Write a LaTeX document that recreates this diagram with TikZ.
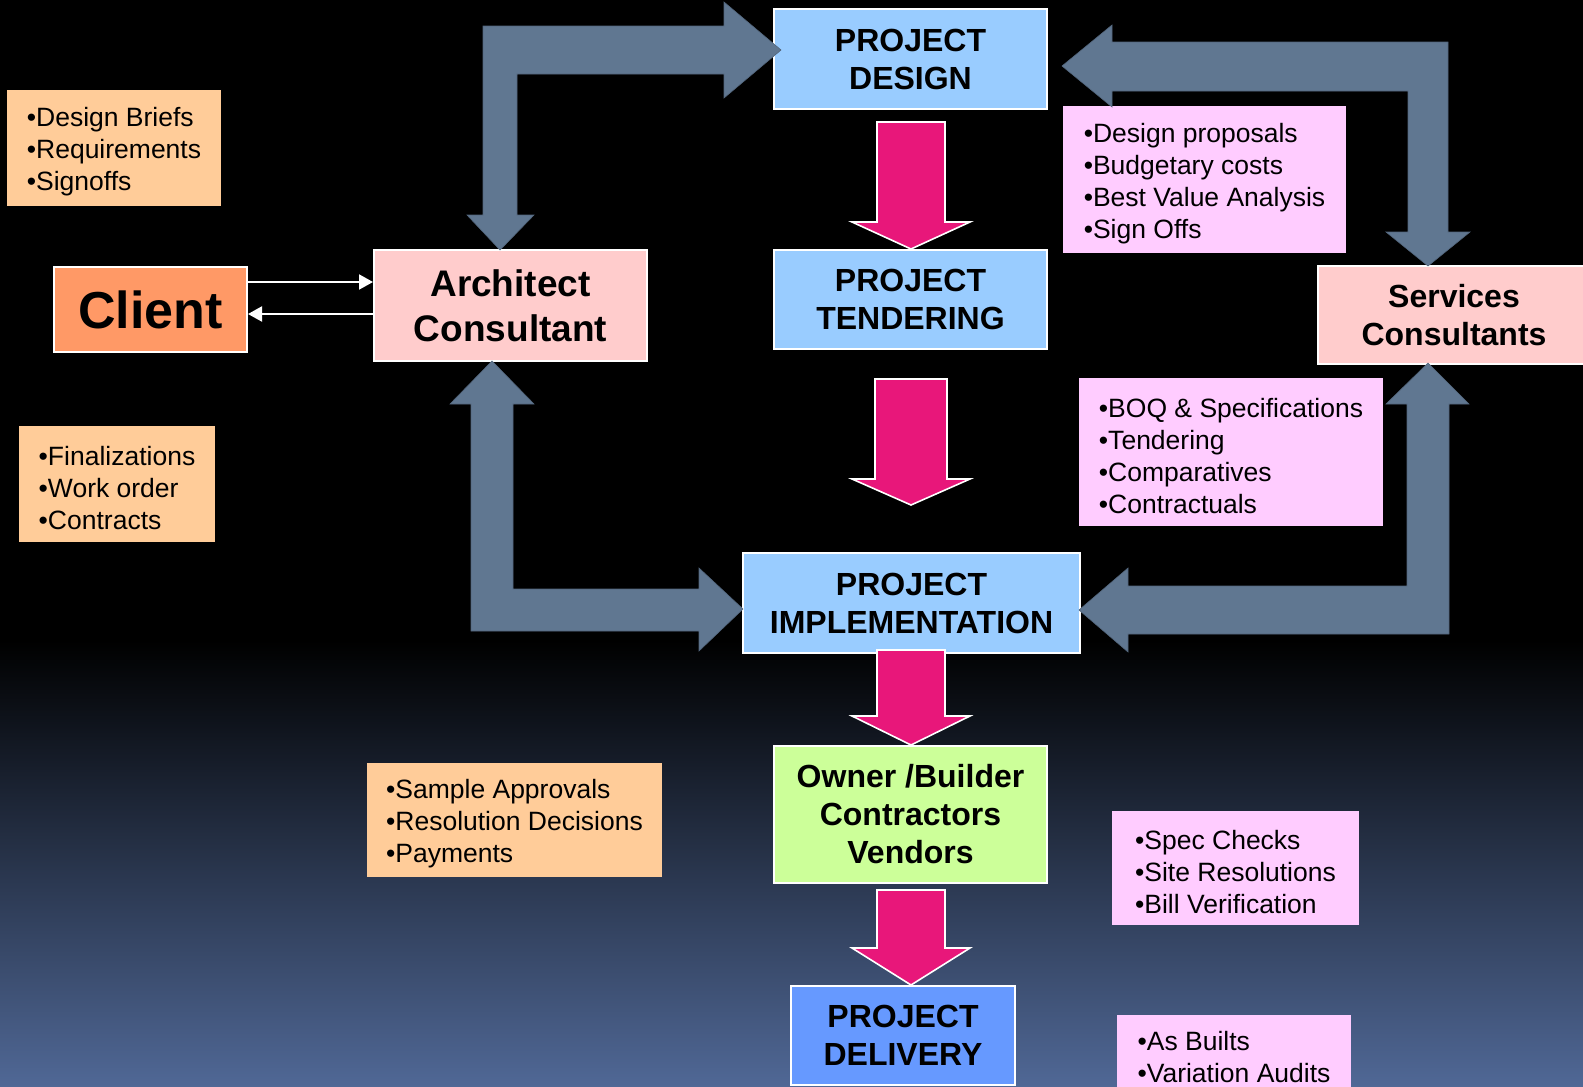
\documentclass[tikz,border=0pt]{standalone}
\usepackage{fontspec}
\setmainfont{Liberation Sans}
\usetikzlibrary{arrows.meta}
\definecolor{bgblue}{RGB}{80,104,150}
\definecolor{greyarr}{RGB}{96,119,145}
\definecolor{magarr}{RGB}{232,23,122}
\definecolor{projblue}{RGB}{153,204,255}
\definecolor{delblue}{RGB}{102,153,255}
\definecolor{ownergreen}{RGB}{204,255,153}
\definecolor{clientorange}{RGB}{255,153,102}
\definecolor{consultpink}{RGB}{255,204,204}
\definecolor{noteorange}{RGB}{255,204,153}
\definecolor{notepink}{RGB}{255,204,255}
\newcommand\magdown[5]{%
  \filldraw[magshape] (#1-#5,#2) -- (#1+#5,#2) -- (#1+#5,#3) -- (#1+59,#3) -- (#1,#4) -- (#1-59,#3) -- (#1-#5,#3) -- cycle;}
\newcommand\tp{\rule{0pt}{27pt}}
\tikzset{
  titlebox/.style={draw=white, line width=2pt, inner sep=0pt, align=center,
    font=\fontsize{32}{38}\selectfont\bfseries},
  notebox/.style={inner sep=0pt, align=left, font=\fontsize{26.5}{32}\selectfont},
  magshape/.style={fill=magarr, draw=white, line width=1.6pt, line join=miter},
  greyshape/.style={fill=greyarr, draw=greyarr!85!black, line width=0.6pt},
  link/.style={draw=white, line width=2pt, -{Triangle[length=14pt,width=15pt]}}
}
\begin{document}
\begin{tikzpicture}[x=1pt,y=-1pt]
\useasboundingbox (0,0) rectangle (1583,1087);
\fill[black] (0,0) rectangle (1583,1087);
\shade[top color=black, bottom color=bgblue] (0,640) rectangle (1583,1087);

% main boxes
\node[titlebox, fill=projblue, minimum width=273pt, minimum height=100pt] (design) at (910.5,59) {PROJECT\\DESIGN};
\node[titlebox, fill=projblue, minimum width=273pt, minimum height=99pt] (tender) at (910.5,299.5) {PROJECT\\TENDERING};
\node[titlebox, fill=projblue, minimum width=337pt, minimum height=100pt] (impl) at (911.5,603) {PROJECT\\IMPLEMENTATION};
\node[titlebox, fill=ownergreen, minimum width=273pt, minimum height=137pt] (owner) at (910.5,814.5) {Owner /Builder\\Contractors\\Vendors};
\node[titlebox, fill=delblue, minimum width=224pt, minimum height=99pt] (deliv) at (903,1035.5) {PROJECT\\DELIVERY};
\node[titlebox, fill=clientorange, minimum width=193pt, minimum height=85pt, font=\fontsize{52}{60}\selectfont\bfseries] (client) at (150.5,309.5) {Client};
\node[titlebox, fill=consultpink, minimum width=273pt, minimum height=111pt, font=\fontsize{37}{45}\selectfont\bfseries] (arch) at (510.5,305.5) {Architect\\Consultant};
\node[titlebox, fill=consultpink, minimum width=272pt, minimum height=98pt] (serv) at (1454,315) {Services\\Consultants};

% note boxes
\node[notebox, fill=noteorange, minimum width=214pt, minimum height=116pt] (db) at (114,148) {\tp•Design Briefs\\•Requirements\\•Signoffs};
\node[notebox, fill=noteorange, minimum width=196pt, minimum height=116pt] (fin) at (117,484) {\tp•Finalizations\\•Work order\\•Contracts};
\node[notebox, fill=noteorange, minimum width=295pt, minimum height=114pt] (samp) at (514.5,820) {\tp•Sample Approvals\\•Resolution Decisions\\•Payments};
\node[notebox, fill=notepink, minimum width=283pt, minimum height=147pt] (dp) at (1204.5,179.5) {\tp•Design proposals\\•Budgetary costs\\•Best Value Analysis\\•Sign Offs};
\node[notebox, fill=notepink, minimum width=304pt, minimum height=148pt] (boq) at (1231,452) {\tp•BOQ \& Specifications\\•Tendering\\•Comparatives\\•Contractuals};
\node[notebox, fill=notepink, minimum width=247pt, minimum height=114pt] (spec) at (1235.5,868) {\tp•Spec Checks\\•Site Resolutions\\•Bill Verification};
\node[notebox, fill=notepink, minimum width=234pt, minimum height=84pt] (asb) at (1234,1057) {•As Builts\\•Variation Audits};
\fill[notepink] (asb.south west) rectangle ([yshift=-10pt]asb.south east);

% grey L-shaped arrows
\filldraw[greyshape] (500,250) -- (534,215) -- (517,215) -- (517,74) -- (724,74) -- (724,98) -- (781,50) -- (724,2) -- (724,26) -- (483,26) -- (483,215) -- (467,215) -- cycle;
\filldraw[greyshape] (1062,66) -- (1112,25) -- (1112,42) -- (1448,42) -- (1448,232) -- (1470,232) -- (1428,266) -- (1386,232) -- (1408,232) -- (1408,91) -- (1112,91) -- (1112,107) -- cycle;
\filldraw[greyshape] (492,361) -- (534,404) -- (513,404) -- (513,589) -- (699,589) -- (699,568) -- (743,609) -- (699,651) -- (699,631) -- (471,631) -- (471,404) -- (450,404) -- cycle;
\filldraw[greyshape] (1428,363) -- (1469,404) -- (1449,404) -- (1449,634) -- (1128,634) -- (1128,652) -- (1079,610) -- (1128,568) -- (1128,586) -- (1407,586) -- (1407,404) -- (1386,404) -- cycle;

% magenta down arrows
\magdown{911}{122}{222}{249}{34}
\magdown{911}{379}{479}{505}{36}
\magdown{911}{650}{716}{745}{34}
\magdown{911}{890}{948}{985}{34}

% client <-> architect
\draw[link] (client.east |- 0,282) -- (arch.west |- 0,282);
\draw[link] (arch.west |- 0,314) -- (client.east |- 0,314);
\end{tikzpicture}
\end{document}
